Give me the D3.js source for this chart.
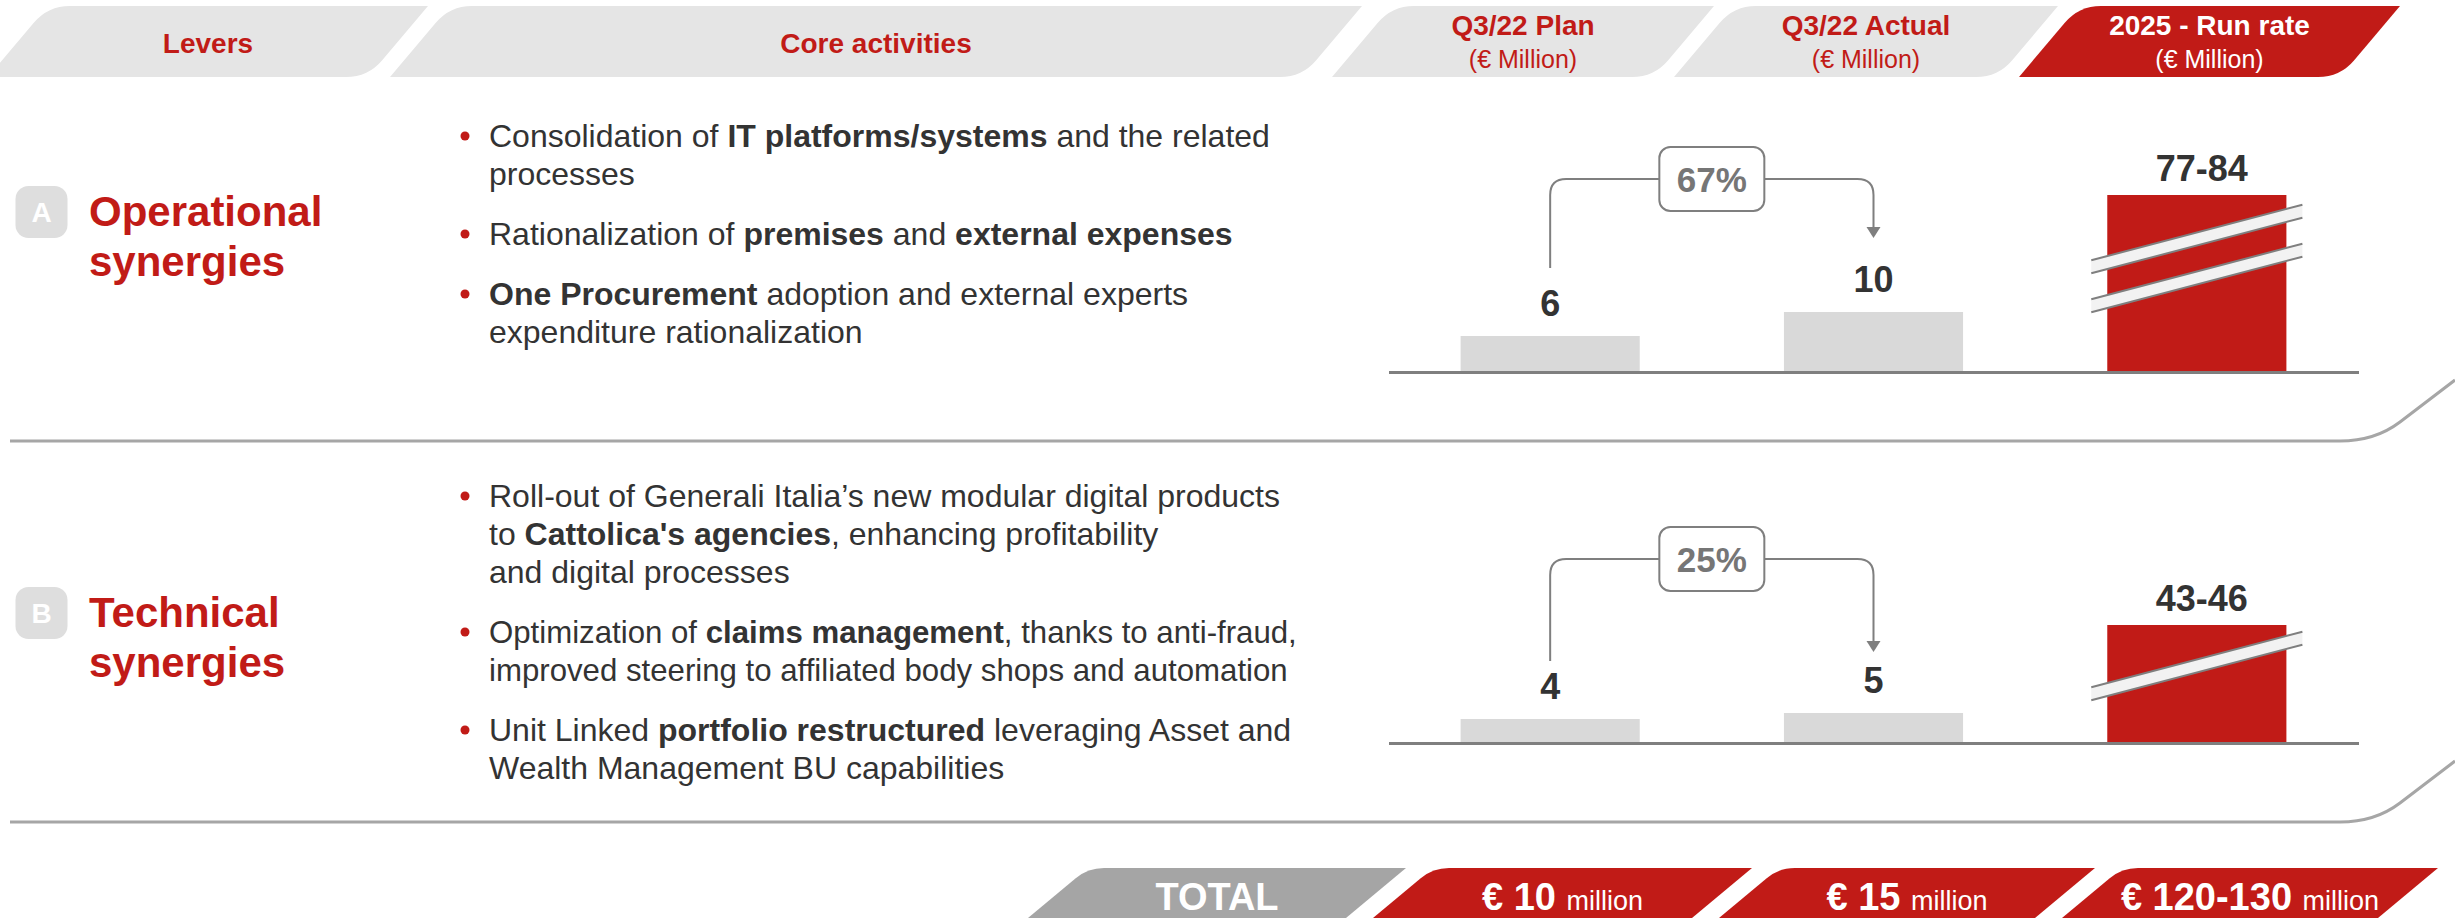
<!DOCTYPE html>
<html>
<head>
<meta charset="utf-8">
<script src="https://cdn.jsdelivr.net/npm/d3@7"></script>
<style>
  html, body { margin:0; padding:0; background:#ffffff; }
  svg { display:block; font-family:"Liberation Sans", Arial, Helvetica, sans-serif; }
</style>
</head>
<body>
<svg id="chart" width="2455" height="918"></svg>
<script>
// ---------------- DATA ----------------
const headerLabels = ["Levers", "Core activities", "Q3/22 Plan", "Q3/22 Actual", "2025 - Run rate"];
const headerUnit = "(€ Million)";
const periods = ["Q3/22 Plan", "Q3/22 Actual", "2025 - Run rate"];
const leverIds = ["A", "B"];
const leverNames = [["Operational", "synergies"], ["Technical", "synergies"]];
const planValues = [6, 4];
const actualValues = [10, 5];
const runRateLow = [77, 43];
const runRateHigh = [84, 46];
const growthLabels = ["67%", "25%"];
const bulletsA = [
  ["Consolidation of **IT platforms/systems** and the related", "processes"],
  ["Rationalization of **premises** and **external expenses**"],
  ["**One Procurement** adoption and external experts", "expenditure rationalization"]
];
const bulletsB = [
  ["Roll-out of Generali Italia’s new modular digital products", "to **Cattolica's agencies**, enhancing profitability", "and digital processes"],
  ["Optimization of **claims management**, thanks to anti-fraud,", "improved steering to affiliated body shops and automation"],
  ["Unit Linked **portfolio restructured** leveraging Asset and", "Wealth Management BU capabilities"]
];
const totalLabel = "TOTAL";
const totalAmounts = ["€ 10", "€ 15", "€ 120-130"];
const totalUnit = "million";

// ---------------- STYLE / LAYOUT ----------------
const RED = "#c11b17", DARK = "#333333", HEADGRAY = "#e5e5e5", BARGRAY = "#d9d9d9", LINEGRAY = "#7f7f7f";
const svg = d3.select("#chart");

function paraPath(xBL, xTR, yTop, yBot, slant, rTL, rBR) {
  const h = yBot - yTop, len = Math.hypot(slant, h);
  const TL = [xBL + slant, yTop], TR = [xTR, yTop], BR = [xTR - slant, yBot], BL = [xBL, yBot];
  const ux = slant / len, uy = h / len;
  const p = d3.path();
  p.moveTo(TL[0] - ux * rTL, TL[1] + uy * rTL);
  p.quadraticCurveTo(TL[0], TL[1], TL[0] + rTL, TL[1]);
  p.lineTo(TR[0], TR[1]);
  p.lineTo(BR[0] + ux * rBR, BR[1] - uy * rBR);
  p.quadraticCurveTo(BR[0], BR[1], BR[0] - rBR, BR[1]);
  p.lineTo(BL[0], BL[1]);
  p.closePath();
  return p.toString();
}

// ---- Header ----
const headerCols = [[-12, 428], [390, 1362], [1332, 1714], [1674, 2058], [2019, 2400]];
const header = svg.append("g");
headerLabels.forEach((lab, i) => {
  const [bl, tr] = headerCols[i];
  const isRun = i === 4;
  header.append("path").attr("d", paraPath(bl, tr, 6, 77, 60, 22, 22))
    .attr("fill", isRun ? RED : HEADGRAY);
  const cx = (bl + tr) / 2;
  const col = isRun ? "#ffffff" : RED;
  if (i < 2) {
    header.append("text").attr("x", cx).attr("y", 53).attr("text-anchor", "middle")
      .attr("font-size", 28).attr("font-weight", "bold").attr("fill", col).text(lab);
  } else {
    header.append("text").attr("x", cx).attr("y", 35).attr("text-anchor", "middle")
      .attr("font-size", 28).attr("font-weight", "bold").attr("fill", col).text(lab);
    header.append("text").attr("x", cx).attr("y", 68).attr("text-anchor", "middle")
      .attr("font-size", 25).attr("fill", col).text(headerUnit);
  }
});

// ---- Panels ----
const panelLayout = [
  { baseline: 372, runTop: 195, headBase: 226, textBase: 147, bracketY: 179, leftEnd: 268, arrowTip: 238, breaks: [-133, -94], sep: 441, fs: [32, 32, 32] },
  { baseline: 743, runTop: 625, headBase: 627, textBase: 507, bracketY: 559, leftEnd: 661, arrowTip: 652, breaks: [-77], sep: 822, fs: [32, 31.2, 32] }
];
const bulletSets = [bulletsA, bulletsB];
const PX_PER_UNIT = 6, BREAK_VAL = 10;

const x = d3.scaleBand().domain(periods).range([1388.5, 2358.5]).paddingInner(0.446).paddingOuter(0.223);

function addRich(textSel, str) {
  const parts = str.split("**");
  parts.forEach((s, k) => {
    if (!s) return;
    textSel.append("tspan").attr("font-weight", k % 2 ? "bold" : "normal").text(s);
  });
}

leverIds.forEach((id, i) => {
  const L = panelLayout[i];
  const g = svg.append("g");

  // badge + heading
  const bc = L.headBase - 14;
  g.append("rect").attr("x", 15.5).attr("y", bc - 26).attr("width", 52).attr("height", 52)
    .attr("rx", 13).attr("fill", "#dedede");
  g.append("text").attr("x", 41.5).attr("y", bc + 10).attr("text-anchor", "middle")
    .attr("font-size", 28).attr("font-weight", "bold").attr("fill", "#ffffff").text(id);
  leverNames[i].forEach((ln, k) => {
    g.append("text").attr("x", 89).attr("y", L.headBase + k * 50)
      .attr("font-size", 42).attr("font-weight", "bold").attr("fill", RED).text(ln);
  });

  // bullets
  let yy = L.textBase;
  bulletSets[i].forEach((lines, b) => {
    g.append("circle").attr("cx", 465).attr("cy", yy - 11).attr("r", 4.5).attr("fill", RED);
    lines.forEach(line => {
      const t = g.append("text").attr("x", 489).attr("y", yy).attr("font-size", L.fs[b]).attr("fill", DARK);
      addRich(t, line);
      yy += 38;
    });
    yy += 22;
  });

  // scales
  const y = d3.scaleLinear()
    .domain([0, BREAK_VAL, runRateHigh[i]])
    .range([L.baseline, L.baseline - BREAK_VAL * PX_PER_UNIT, L.runTop]);

  const vals = [planValues[i], actualValues[i], runRateHigh[i]];
  const labels = [String(planValues[i]), String(actualValues[i]), runRateLow[i] + "-" + runRateHigh[i]];
  const colors = [BARGRAY, BARGRAY, RED];

  g.selectAll("rect.bar").data(periods).enter().append("rect").attr("class", "bar")
    .attr("x", d => x(d)).attr("width", x.bandwidth())
    .attr("y", (d, k) => y(vals[k])).attr("height", (d, k) => L.baseline - y(vals[k]))
    .attr("fill", (d, k) => colors[k]);

  // break bands on run-rate bar
  const rx0 = x(periods[2]) - 16, rx1 = x(periods[2]) + x.bandwidth() + 16;
  const rcx = x(periods[2]) + x.bandwidth() / 2;
  const slope = 0.263, th = 6.5;
  L.breaks.forEach(off => {
    const yc = L.baseline + off;
    const yl = yc + (rcx - rx0) * slope, yr = yc - (rx1 - rcx) * slope;
    g.append("path").attr("d", `M${rx0},${yl - th} L${rx1},${yr - th} L${rx1},${yr + th} L${rx0},${yl + th} Z`)
      .attr("fill", "#f2f2f2");
    g.append("path").attr("d", `M${rx0},${yl - th} L${rx1},${yr - th} M${rx0},${yl + th} L${rx1},${yr + th}`)
      .attr("stroke", LINEGRAY).attr("stroke-width", 2).attr("fill", "none");
  });

  // value labels
  g.selectAll("text.val").data(periods).enter().append("text").attr("class", "val")
    .attr("x", (d, k) => x(d) + x.bandwidth() / 2 + (k === 2 ? 5 : 0))
    .attr("y", (d, k) => y(vals[k]) - (k === 2 ? 14 : 20))
    .attr("text-anchor", "middle").attr("font-size", 36).attr("font-weight", "bold").attr("fill", DARK)
    .text((d, k) => labels[k]);

  // axis baseline
  const ax = g.append("g").attr("transform", `translate(0,${L.baseline})`)
    .call(d3.axisBottom(x).tickSize(0).tickSizeOuter(0).tickFormat(""));
  ax.select(".domain").attr("stroke", LINEGRAY).attr("stroke-width", 3);

  // growth bracket
  const x1 = x(periods[0]) + x.bandwidth() / 2, x2 = x(periods[1]) + x.bandwidth() / 2;
  const bxc = (x1 + x2) / 2, bw = 105, bh = 64, r = 16;
  g.append("path")
    .attr("d", `M${x1},${L.leftEnd} V${L.bracketY + r} Q${x1},${L.bracketY} ${x1 + r},${L.bracketY} H${bxc - bw / 2}` +
      ` M${bxc + bw / 2},${L.bracketY} H${x2 - r} Q${x2},${L.bracketY} ${x2},${L.bracketY + r} V${L.arrowTip - 10}`)
    .attr("fill", "none").attr("stroke", LINEGRAY).attr("stroke-width", 2);
  g.append("path").attr("d", `M${x2 - 7},${L.arrowTip - 11} L${x2 + 7},${L.arrowTip - 11} L${x2},${L.arrowTip} Z`)
    .attr("fill", LINEGRAY);
  g.append("rect").attr("x", bxc - bw / 2).attr("y", L.bracketY - bh / 2).attr("width", bw).attr("height", bh)
    .attr("rx", 11).attr("fill", "#ffffff").attr("stroke", LINEGRAY).attr("stroke-width", 2);
  g.append("text").attr("x", bxc).attr("y", L.bracketY + 13).attr("text-anchor", "middle")
    .attr("font-size", 35).attr("font-weight", "bold").attr("fill", "#767676").text(growthLabels[i]);

  // separator
  const s = L.sep;
  g.append("path").attr("d", `M10,${s} H2340 Q2375,${s} 2400,${s - 19} L2455,${s - 61}`)
    .attr("fill", "none").attr("stroke", "#a6a6a6").attr("stroke-width", 3);
});

// ---- Total row ----
const totalCols = [[1028, 1406], [1373, 1752], [1719, 2095], [2062, 2438]];
const tot = svg.append("g");
totalCols.forEach((c, i) => {
  tot.append("path").attr("d", paraPath(c[0], c[1], 868, 918, 60, 16, 0))
    .attr("fill", i === 0 ? "#a5a5a5" : RED);
  const cx = (c[0] + c[1]) / 2;
  const t = tot.append("text").attr("x", cx).attr("y", 910).attr("text-anchor", "middle").attr("fill", "#ffffff");
  if (i === 0) {
    t.append("tspan").attr("font-size", 38).attr("font-weight", "bold").text(totalLabel);
  } else {
    t.append("tspan").attr("font-size", 38).attr("font-weight", "bold").text(totalAmounts[i - 1] + " ");
    t.append("tspan").attr("font-size", 27).text(totalUnit);
  }
});
</script>
</body>
</html>
